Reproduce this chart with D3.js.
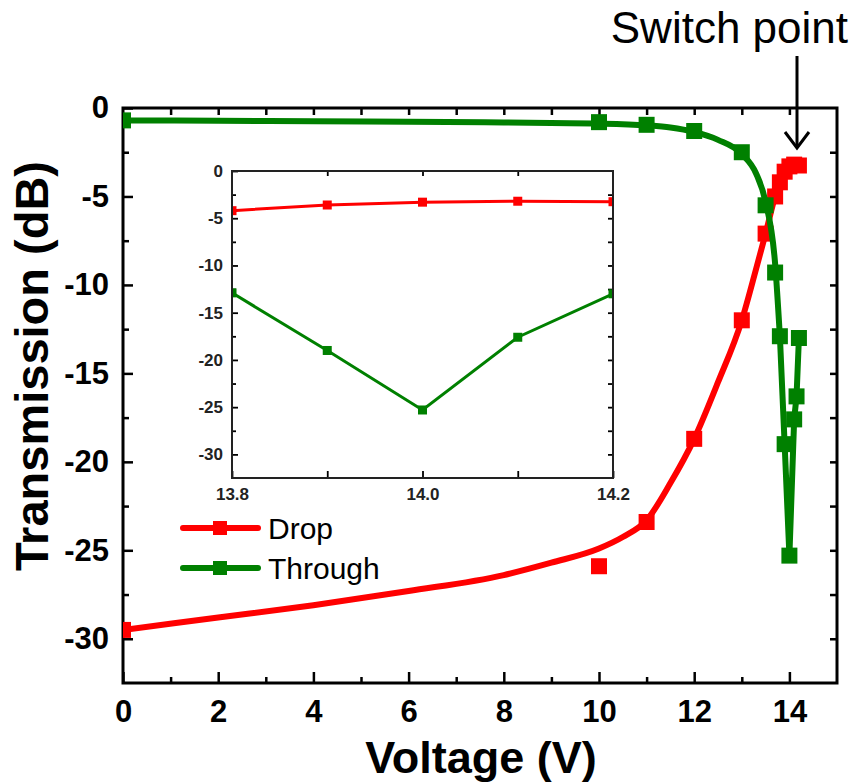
<!DOCTYPE html>
<html>
<head>
<meta charset="utf-8">
<script src="https://cdn.jsdelivr.net/npm/d3@7"></script>
<style>
  body { margin: 0; background: #fff; }
  svg { display: block; font-family: "Liberation Sans", Arial, sans-serif; }
  .axis path { display: none; }
  .axis line { stroke: #000; stroke-width: 2.5; }
  .inset .axis line { stroke-width: 1.8; }
</style>
</head>
<body>
<div id="chart"></div>
<script>
// Main plot: fitted curves and measured points (Voltage V, Transmission dB)
const dropFitV = [0, 2, 4, 6, 8, 9, 10, 10.5, 11, 11.5, 12, 12.5, 13, 13.3, 13.5, 13.7, 13.8, 13.9, 14.0, 14.1, 14.2];
const dropFitT = [-29.5, -28.8, -28.1, -27.3, -26.4, -25.7, -24.9, -24.25, -23.3, -21.2, -18.7, -15.5, -12.0, -9.1, -7.1, -5.0, -4.2, -3.6, -3.3, -3.2, -3.25];
const dropMarkV = [0, 10, 11, 12, 13, 13.5, 13.7, 13.8, 13.9, 14.0, 14.1, 14.2];
const dropMarkT = [-29.5, -25.9, -23.4, -18.7, -12.0, -7.1, -5.0, -4.2, -3.6, -3.3, -3.2, -3.25];

const throughFitV = [0, 2, 4, 6, 8, 10, 11, 11.5, 12, 12.5, 13, 13.3, 13.5, 13.7, 13.8];
const throughFitT = [-0.7, -0.72, -0.75, -0.78, -0.82, -0.88, -0.98, -1.1, -1.35, -1.8, -2.6, -3.7, -5.3, -8.8, -12.9];
const throughMarkV = [0, 10, 11, 12, 13, 13.5, 13.7, 13.8, 13.9, 14.0, 14.1, 14.15, 14.2];
const throughMarkT = [-0.7, -0.8, -0.95, -1.3, -2.5, -5.5, -9.3, -12.9, -19.0, -25.3, -17.6, -16.3, -13.0];

// Inset (zoom on 13.8 - 14.2 V)
const insetV = [13.8, 13.9, 14.0, 14.1, 14.2];
const insetDrop = [-4.2, -3.6, -3.3, -3.2, -3.25];
const insetThrough = [-12.9, -19.0, -25.3, -17.6, -13.0];

// Tick values
const xMajor = [0, 2, 4, 6, 8, 10, 12, 14];
const xMinor = [1, 3, 5, 7, 9, 11, 13];
const yMajor = [0, -5, -10, -15, -20, -25, -30];
const yMinor = [-2.5, -7.5, -12.5, -17.5, -22.5, -27.5];
const insetXMajor = [13.8, 14.0, 14.2];
const insetXMinor = [13.9, 14.1];

const RED = "#ff0000", GREEN = "#008000";
const width = 854, height = 783;

const zip = (a, b) => a.map((v, i) => ({ v: v, t: b[i] }));
const plain = d => String(d);   // keep the ASCII hyphen as minus sign

let svg = d3.select("#chart").append("svg")
    .attr("width", width).attr("height", height);

// Scales
let x = d3.scaleLinear().domain([0, 15]).range([123, 837]);
let y = d3.scaleLinear().domain([-32.5, 0]).range([683, 108]);

svg.append("clipPath").attr("id", "clipMain").append("rect")
    .attr("x", 123).attr("y", 108).attr("width", 714).attr("height", 575);

// Axes (ticks point inward)
function addAxis(g, axis, cls) {
    return g.append("g").attr("class", "axis " + (cls || "")).call(axis);
}
let axes = svg.append("g");
addAxis(axes.append("g").attr("transform", "translate(0,683)"),
    d3.axisBottom(x).tickValues(xMajor).tickSize(-11).tickPadding(17).tickFormat(plain))
    .selectAll("text").attr("font-size", 31).attr("font-weight", "bold").attr("fill", "#000");
addAxis(axes.append("g").attr("transform", "translate(0,683)"),
    d3.axisBottom(x).tickValues(xMinor).tickSize(-6).tickFormat(""));
addAxis(axes.append("g").attr("transform", "translate(0,108)"),
    d3.axisTop(x).tickValues(xMajor.concat(xMinor).filter(d => d > 0)).tickSize(-7).tickFormat(""));
addAxis(axes.append("g").attr("transform", "translate(123,0)"),
    d3.axisLeft(y).tickValues(yMajor).tickSize(-10).tickPadding(14).tickFormat(plain))
    .selectAll("text").attr("font-size", 31).attr("font-weight", "bold").attr("fill", "#000");
addAxis(axes.append("g").attr("transform", "translate(123,0)"),
    d3.axisLeft(y).tickValues(yMinor).tickSize(-6).tickFormat(""));
addAxis(axes.append("g").attr("transform", "translate(837,0)"),
    d3.axisRight(y).tickValues(yMajor.concat(yMinor).filter(d => d < 0)).tickSize(-7).tickFormat(""));

svg.append("rect")
    .attr("x", 123).attr("y", 108).attr("width", 714).attr("height", 575)
    .attr("fill", "none").attr("stroke", "#000").attr("stroke-width", 3);

// Curves
let line = d3.line().x(d => x(d.v)).y(d => y(d.t));
let plot = svg.append("g").attr("clip-path", "url(#clipMain)");

plot.append("path")
    .attr("d", line.curve(d3.curveMonotoneX)(zip(dropFitV, dropFitT)))
    .attr("fill", "none").attr("stroke", RED).attr("stroke-width", 6);
plot.selectAll(".mDrop").data(zip(dropMarkV, dropMarkT)).enter().append("rect")
    .attr("x", d => x(d.v) - 8).attr("y", d => y(d.t) - 8)
    .attr("width", 16).attr("height", 16).attr("fill", RED);

let throughV = zip(throughMarkV, throughMarkT).filter(d => d.v >= 13.8);
plot.append("path")
    .attr("d", line.curve(d3.curveMonotoneX)(zip(throughFitV, throughFitT)))
    .attr("fill", "none").attr("stroke", GREEN).attr("stroke-width", 6);
plot.append("path")
    .attr("d", line.curve(d3.curveLinear)(throughV))
    .attr("fill", "none").attr("stroke", GREEN).attr("stroke-width", 6).attr("stroke-linejoin", "round");
plot.selectAll(".mThrough").data(zip(throughMarkV, throughMarkT)).enter().append("rect")
    .attr("x", d => x(d.v) - 8).attr("y", d => y(d.t) - 8)
    .attr("width", 16).attr("height", 16).attr("fill", GREEN);

// Inset
let xi = d3.scaleLinear().domain([13.8, 14.2]).range([232, 613]);
let yi = d3.scaleLinear().domain([-32.5, 0]).range([478, 171]);
let inset = svg.append("g").attr("class", "inset");
inset.append("rect").attr("x", 232).attr("y", 171).attr("width", 381).attr("height", 307).attr("fill", "#fff");
svg.append("clipPath").attr("id", "clipInset").append("rect")
    .attr("x", 232).attr("y", 171).attr("width", 381).attr("height", 307);

addAxis(inset.append("g").attr("transform", "translate(0,478)"),
    d3.axisBottom(xi).tickValues(insetXMajor).tickSize(-7).tickPadding(10).tickFormat(d3.format(".1f")))
    .selectAll("text").attr("font-size", 17).attr("font-weight", "bold").attr("fill", "#222");
addAxis(inset.append("g").attr("transform", "translate(0,478)"),
    d3.axisBottom(xi).tickValues(insetXMinor).tickSize(-7).tickFormat(""));
addAxis(inset.append("g").attr("transform", "translate(0,171)"),
    d3.axisTop(xi).tickValues(insetXMinor.concat([14.0])).tickSize(-5).tickFormat(""));
addAxis(inset.append("g").attr("transform", "translate(232,0)"),
    d3.axisLeft(yi).tickValues(yMajor).tickSize(-6).tickPadding(9).tickFormat(plain))
    .selectAll("text").attr("font-size", 17).attr("font-weight", "bold").attr("fill", "#222");
addAxis(inset.append("g").attr("transform", "translate(232,0)"),
    d3.axisLeft(yi).tickValues(yMinor).tickSize(-4).tickFormat(""));
addAxis(inset.append("g").attr("transform", "translate(613,0)"),
    d3.axisRight(yi).tickValues(yMajor.concat(yMinor).filter(d => d < 0)).tickSize(-5).tickFormat(""));

let iline = d3.line().x(d => xi(d.v)).y(d => yi(d.t));
let iplot = inset.append("g").attr("clip-path", "url(#clipInset)");
[[insetDrop, RED], [insetThrough, GREEN]].forEach(([vals, col]) => {
    let pts = zip(insetV, vals);
    iplot.append("path").attr("d", iline(pts))
        .attr("fill", "none").attr("stroke", col).attr("stroke-width", 3);
    iplot.selectAll(null).data(pts).enter().append("rect")
        .attr("x", d => xi(d.v) - 4.5).attr("y", d => yi(d.t) - 4.5)
        .attr("width", 9).attr("height", 9).attr("fill", col);
});
inset.append("rect").attr("x", 232).attr("y", 171).attr("width", 381).attr("height", 307)
    .attr("fill", "none").attr("stroke", "#222").attr("stroke-width", 2);

// Legend
let legend = svg.append("g");
[["Drop", RED, 528], ["Through", GREEN, 568]].forEach(([name, col, ly]) => {
    legend.append("line").attr("x1", 183).attr("x2", 258).attr("y1", ly).attr("y2", ly)
        .attr("stroke", col).attr("stroke-width", 6).attr("stroke-linecap", "round");
    legend.append("rect").attr("x", 213).attr("y", ly - 7).attr("width", 14).attr("height", 14).attr("fill", col);
    legend.append("text").attr("x", 268).attr("y", ly + 11).attr("font-size", 30).text(name);
});

// Axis titles
svg.append("text").attr("x", 481).attr("y", 773).attr("text-anchor", "middle")
    .attr("font-size", 45).attr("font-weight", "bold").text("Voltage (V)");
svg.append("text").attr("transform", "translate(48,366) rotate(-90)").attr("text-anchor", "middle")
    .attr("font-size", 47).attr("font-weight", "bold").text("Transmission (dB)");

// Switch point annotation
svg.append("text").attr("x", 848).attr("y", 43).attr("text-anchor", "end")
    .attr("font-size", 44).text("Switch point");
svg.append("line").attr("x1", 797).attr("x2", 797).attr("y1", 56).attr("y2", 147)
    .attr("stroke", "#000").attr("stroke-width", 3);
svg.append("path").attr("d", "M785,132 L797,148 L809,132")
    .attr("fill", "none").attr("stroke", "#000").attr("stroke-width", 3);
</script>
</body>
</html>
